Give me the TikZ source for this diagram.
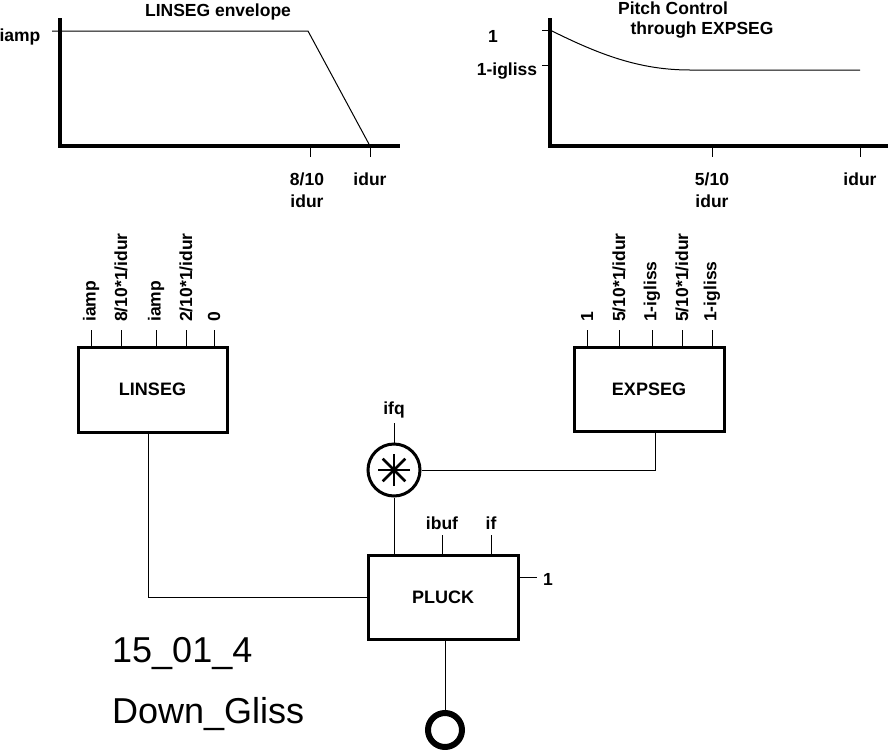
\documentclass[tikz,border=0pt]{standalone}
\usepackage{fontspec}
\setmainfont{Liberation Sans}
\begin{document}
\begin{tikzpicture}[x=1pt,y=-1pt,
 lbl/.style={font=\fontsize{17.5}{20}\selectfont\bfseries, inner sep=0},
 rlbl/.style={lbl, rotate=90, anchor=west},
 box/.style={draw, line width=3pt, minimum width=150pt, minimum height=84pt, inner sep=0, font=\fontsize{18}{21}\selectfont\bfseries},
 big/.style={font=\fontsize{36}{40}\selectfont, inner sep=0, anchor=base west},
 thin/.style={line width=1pt},
 axis/.style={line width=4pt, line join=miter}]
\useasboundingbox (0,0) rectangle (892,750);

% ---- LINSEG envelope graph
\draw[axis] (60,18) -- (60,146) -- (400,146);
\draw[thin] (52,31) -- (308,31) -- (370,146);
\draw[thin] (310,146) -- (310,157);
\draw[thin] (370,146) -- (370,157);
\node[lbl, anchor=base] (tl) at (218,16) {LINSEG envelope};
\node[lbl, anchor=base] (ya) at (20,41) {iamp};
\node[lbl, anchor=base] (x1) at (307,185) {8/10};
\node[lbl, anchor=base] (x1b) at (307,207) {idur};
\node[lbl, anchor=base] (x2) at (370,185) {idur};

% ---- EXPSEG pitch graph
\draw[axis] (550,18) -- (550,146) -- (888,146);
\draw[thin] (542,30) -- (550,30);
\draw[thin] (542,65) -- (550,65);
\draw[thin] (550,30) .. controls (600,55) and (640,70) .. (690,70) -- (860,70);
\draw[thin] (712,146) -- (712,157);
\draw[thin] (860,146) -- (860,157);
\node[lbl, anchor=base] (t2a) at (673,14) {Pitch Control};
\node[lbl, anchor=base] (t2b) at (702,34) {through EXPSEG};
\node[lbl, anchor=base] (yb1) at (493,42) {1};
\node[lbl, anchor=base] (yb2) at (507,75) {1-igliss};
\node[lbl, anchor=base] (x3) at (712,185) {5/10};
\node[lbl, anchor=base] (x3b) at (712,207) {idur};
\node[lbl, anchor=base] (x4) at (860,185) {idur};

% ---- boxes
\node[box, minimum width=149pt, minimum height=85pt] (linseg) at (152.5,389.5) {LINSEG};
\node[box] (expseg) at (649,389) {EXPSEG};
\node[box] (pluck) at (443,597) {PLUCK};
\node[draw, circle, line width=3pt, minimum size=52pt, inner sep=0] (mul) at (394,470) {};
\node[draw, circle, line width=6pt, minimum size=34pt, inner sep=0] (out) at (445,730) {};

% asterisk
\foreach \a in {0,45,90,135}
  \draw[line width=2.5pt] ([shift={(\a:16)}]mul.center) -- ([shift={(\a+180:16)}]mul.center);

% ---- LINSEG inputs
\foreach \x/\t in {91/iamp, 121/8\slash 10*1\slash idur, 156/iamp, 186/2\slash 10*1\slash idur, 214/0}{
  \draw[thin] (\x,330) -- (\x,347);
  \node[rlbl] at (\x,322) {\t};
}
% ---- EXPSEG inputs
\foreach \x/\t in {587/1, 619/5\slash 10*1\slash idur, 652/1-igliss, 682/5\slash 10*1\slash idur, 712/1-igliss}{
  \draw[thin] (\x,330) -- (\x,347);
  \node[rlbl] at (\x,322) {\t};
}

% ---- multiplier input
\coordinate (ifqend) at (394,423);
\draw[thin] (ifqend) -- (mul.north);
\node[lbl, anchor=base] (ifq) at (394,414) {ifq};

% ---- PLUCK inputs
\coordinate (ibufend) at (442,535);
\coordinate (ifend) at (491,535);
\draw[thin] (ibufend) -- (ibufend |- pluck.north);
\draw[thin] (ifend) -- (ifend |- pluck.north);
\node[lbl, anchor=base] (ibuf) at (442,529) {ibuf};
\node[lbl, anchor=base] (if) at (491,529) {if};
\coordinate (oneend) at (537,577);
\draw[thin] (oneend -| pluck.east) -- (oneend);
\node[lbl, anchor=base] (one) at (548,585) {1};

% ---- connections
\draw[thin] ([xshift=-4.5pt]linseg.south) |- (pluck.west);
\draw[thin] ([xshift=6pt]expseg.south) |- (mul.east);
\draw[thin] (mul.south) -- (mul.south |- pluck.north);
\draw[thin] (out.north |- pluck.south) -- (out.north);

% ---- captions
\node[big] (c1) at (112,662) {15\_01\_4};
\node[big] (c2) at (112,723) {Down\_Gliss};
\end{tikzpicture}
\end{document}
